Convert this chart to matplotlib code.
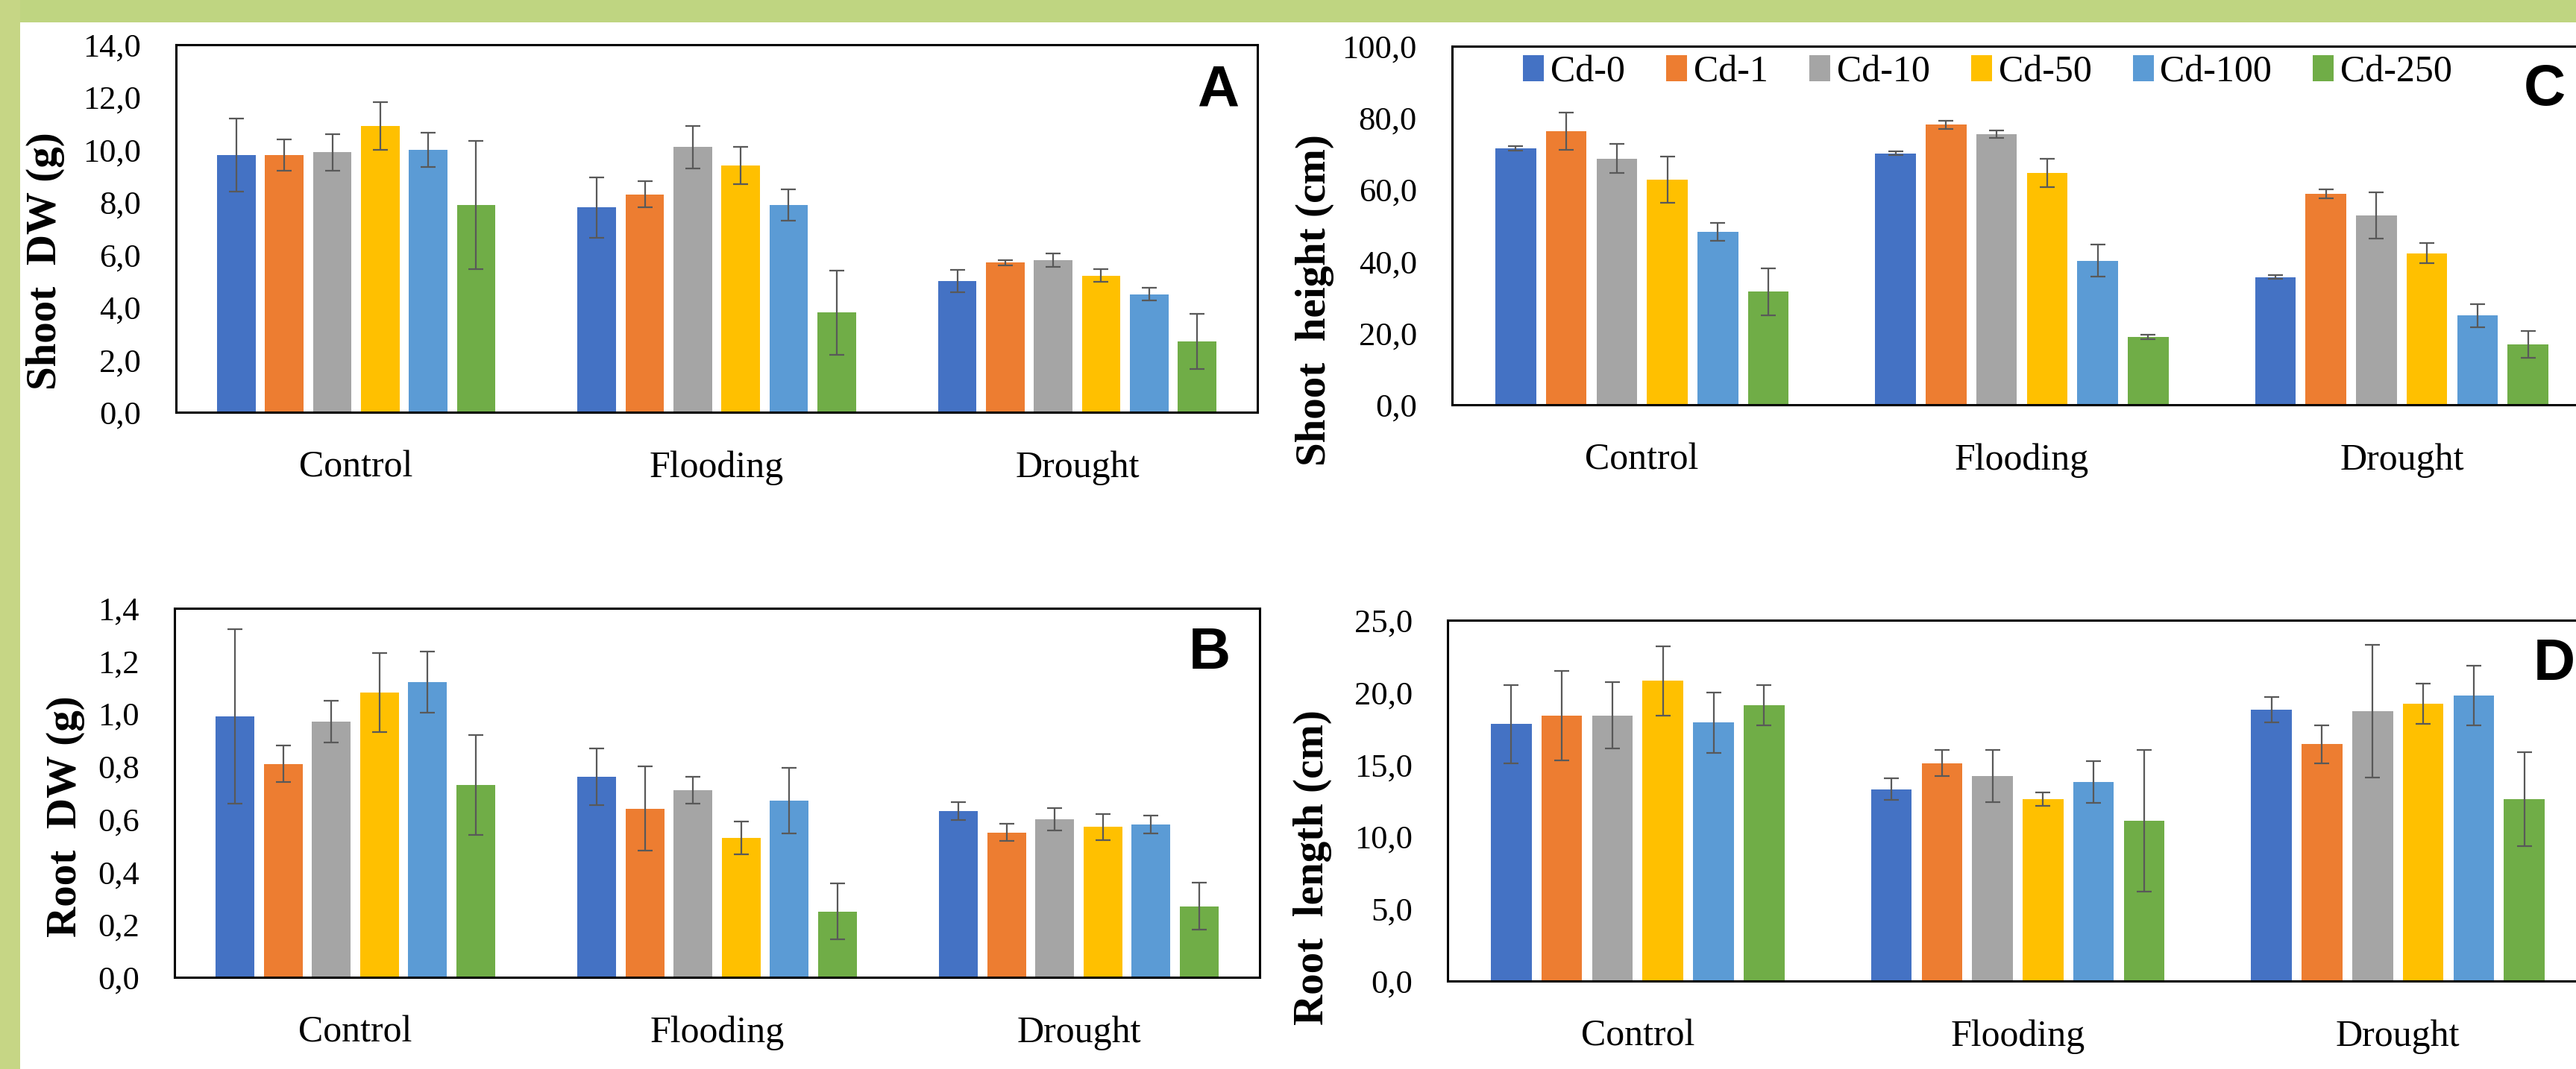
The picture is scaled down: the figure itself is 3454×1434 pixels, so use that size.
import numpy as np
import matplotlib
matplotlib.use('Agg')
import matplotlib.pyplot as plt
from matplotlib.patches import Rectangle

# ---- data ----
groups = ['Control', 'Flooding', 'Drought']
series = ['Cd-0', 'Cd-1', 'Cd-10', 'Cd-50', 'Cd-100', 'Cd-250']
colors = ['#4472C4', '#ED7D31', '#A5A5A5', '#FFC000', '#5B9BD5', '#70AD47']

# A - shoot dry weight (g), rows = series, cols = groups
shoot_dw = [[9.8, 7.8, 5.0], [9.8, 8.3, 5.7], [9.9, 10.1, 5.8],
            [10.9, 9.4, 5.2], [10.0, 7.9, 4.5], [7.9, 3.8, 2.7]]
shoot_dw_err = [[1.4, 1.15, 0.43], [0.6, 0.5, 0.1], [0.7, 0.8, 0.25],
                [0.9, 0.7, 0.24], [0.65, 0.6, 0.23], [2.45, 1.6, 1.05]]

# B - root dry weight (g)
root_dw = [[0.99, 0.76, 0.63], [0.81, 0.64, 0.55], [0.97, 0.71, 0.60],
           [1.08, 0.53, 0.57], [1.12, 0.67, 0.58], [0.73, 0.25, 0.27]]
root_dw_err = [[0.33, 0.107, 0.034], [0.07, 0.16, 0.032], [0.08, 0.05, 0.043],
               [0.15, 0.062, 0.049], [0.115, 0.124, 0.034], [0.19, 0.106, 0.088]]

# C - shoot height (cm)
shoot_h = [[71.5, 70.1, 35.6], [76.2, 78.1, 58.8], [68.7, 75.5, 52.8],
           [62.8, 64.7, 42.3], [48.2, 40.2, 24.9], [31.5, 18.9, 16.8]]
shoot_h_err = [[0.6, 0.5, 0.5], [5.2, 1.2, 1.3], [4.1, 1.1, 6.5],
               [6.5, 4.0, 2.8], [2.5, 4.5, 3.2], [6.5, 0.6, 3.8]]

# D - root length (cm)
root_len = [[17.8, 13.3, 18.8], [18.4, 15.1, 16.4], [18.4, 14.2, 18.7],
            [20.8, 12.6, 19.2], [17.9, 13.8, 19.8], [19.1, 11.1, 12.6]]
root_len_err = [[2.7, 0.73, 0.9], [3.1, 0.9, 1.3], [2.3, 1.8, 4.6],
                [2.4, 0.45, 1.4], [2.1, 1.43, 2.07], [1.4, 4.9, 3.27]]

W, H = 3454, 1434
fig = plt.figure(figsize=(W / 100, H / 100), dpi=100, facecolor='white')

# green frame (top and left)
fig.patches.append(Rectangle((0, 1 - 30 / H), 1, 30 / H, transform=fig.transFigure,
                             facecolor='#BFD581', edgecolor='none', zorder=0))
fig.patches.append(Rectangle((0, 0), 27 / W, 1, transform=fig.transFigure,
                             facecolor='#C6D685', edgecolor='none', zorder=0))

SERIF = 'Liberation Serif'
PITCH, BW = 0.133, 0.107


def px_axes(l, t, r, b):
    return fig.add_axes([l / W, 1 - b / H, (r - l) / W, (b - t) / H])


def panel(box, vals, errs, ymax, ystep, ylabel, lab_xy, letter, letter_xy, legend=False):
    ax = px_axes(*box)
    x = np.arange(len(groups))
    for i, s in enumerate(series):
        ax.bar(x + (i - 2.5) * PITCH, vals[i], BW, color=colors[i], label=s,
               yerr=errs[i], zorder=2,
               error_kw=dict(ecolor='#595959', elinewidth=1.6, capsize=7, capthick=1.6))
    ax.set_xlim(-0.5, 2.5)
    ax.set_ylim(0, ymax)
    yt = np.arange(0, ymax + ystep / 2, ystep)
    ax.set_yticks(yt)
    ax.set_yticklabels([f'{v:.1f}'.replace('.', ',') for v in yt], family=SERIF, fontsize=32)
    ax.set_xticks(x)
    ax.set_xticklabels(groups, family=SERIF, fontsize=36)
    ax.tick_params(axis='y', length=0, pad=34)
    ax.tick_params(axis='x', length=0, pad=37)
    for sp in ax.spines.values():
        sp.set_linewidth(2.2)
        sp.set_color('black')
    fig.text(lab_xy[0] / W, 1 - lab_xy[1] / H, ylabel, rotation=90, ha='center', va='center',
             family=SERIF, fontweight='bold', fontsize=41)
    fig.text(letter_xy[0] / W, 1 - letter_xy[1] / H, letter, ha='center', va='center',
             family='Liberation Sans', fontweight='bold', fontsize=56)
    if legend:
        ax.legend(loc='center left', bbox_to_anchor=((2042 - box[0]) / (box[2] - box[0]), 0.927),
                  ncol=6, frameon=False, prop=dict(family=SERIF, size=36),
                  handlelength=0.56, handleheight=0.7, handletextpad=0.18,
                  columnspacing=1.1, borderpad=0, borderaxespad=0)
    return ax


panel((236, 60, 1686, 553), shoot_dw, shoot_dw_err, 14, 2, 'Shoot  DW (g)', (61, 350), 'A', (1633, 122))
panel((234, 816, 1689, 1311), root_dw, root_dw_err, 1.4, 0.2, 'Root  DW (g)', (88, 1095), 'B', (1622, 877))
panel((1947, 62, 3475, 543), shoot_h, shoot_h_err, 100, 20, 'Shoot  height (cm)', (1763, 403), 'C',
      (3412, 121), legend=True)
panel((1941, 832, 3470, 1316), root_len, root_len_err, 25, 5, 'Root  length (cm)', (1760, 1164), 'D',
      (3425, 891))

fig.savefig('out.png', dpi=100)
